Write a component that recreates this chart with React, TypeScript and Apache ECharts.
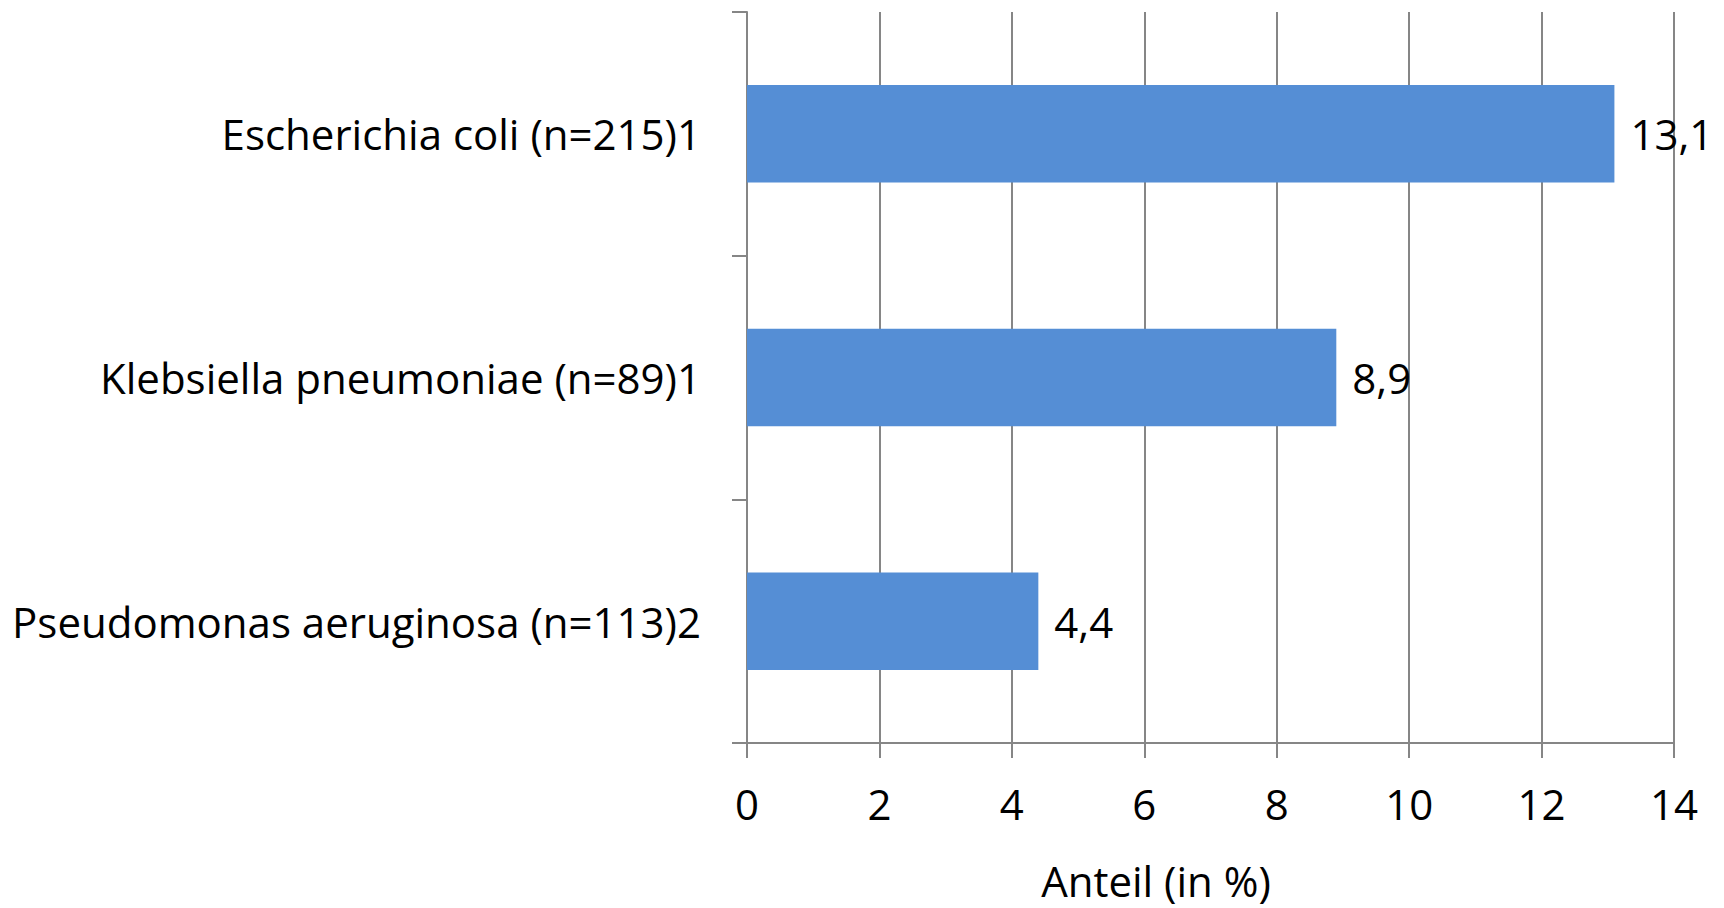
import React, { useEffect, useRef } from "react";
import * as echarts from "echarts";

const categories = [
  "Escherichia coli (n=215)1",
  "Klebsiella pneumoniae (n=89)1",
  "Pseudomonas aeruginosa (n=113)2",
];
const values = [13.1, 8.9, 4.4];
const xTicks = { min: 0, max: 14, interval: 2 };
const axisTitle = "Anteil (in %)";

const FONT = "'Open Sans', 'Noto Sans', sans-serif";
const GRAY = "#868686";
const FS = 42;

export default function App() {
  const ref = useRef<HTMLDivElement>(null);
  useEffect(() => {
    if (!ref.current) return;
    const chart = echarts.init(ref.current, null, { renderer: "svg" });
    chart.setOption({
      animation: false,
      backgroundColor: "#ffffff",
      textStyle: { fontFamily: FONT },
      grid: { left: 747, right: 50, top: 12, bottom: 165, containLabel: false },
      xAxis: {
        type: "value",
        min: xTicks.min,
        max: xTicks.max,
        interval: xTicks.interval,
        axisLine: { show: true, lineStyle: { color: GRAY, width: 2 } },
        axisTick: { show: true, length: 15, lineStyle: { color: GRAY, width: 2 } },
        splitLine: { show: true, lineStyle: { color: GRAY, width: 2 } },
        axisLabel: { color: "#000", fontSize: FS, fontFamily: FONT, margin: 39 },
      },
      yAxis: {
        type: "category",
        data: categories,
        inverse: true,
        axisLine: { show: true, lineStyle: { color: GRAY, width: 2 } },
        axisTick: { show: true, length: 15, lineStyle: { color: GRAY, width: 2 } },
        axisLabel: { color: "#000", fontSize: FS, fontFamily: FONT, margin: 46 },
      },
      series: [
        {
          type: "bar",
          data: values,
          barCategoryGap: "60%",
          itemStyle: { color: "#558ED5" },
          label: {
            show: true,
            position: "right",
            distance: 16,
            color: "#000",
            fontSize: FS,
            fontFamily: FONT,
            formatter: (p: any) => String(p.value).replace(".", ","),
          },
        },
      ],
      graphic: [
        {
          type: "text",
          x: 1156,
          y: 880,
          style: {
            text: axisTitle,
            fill: "#000",
            fontSize: FS,
            fontFamily: FONT,
            textAlign: "center",
            textVerticalAlign: "middle",
          },
        },
      ],
    });
    return () => chart.dispose();
  }, []);
  return (
    <div
      ref={ref}
      style={{ position: "fixed", left: 0, top: 0, width: 1724, height: 908 }}
    />
  );
}
